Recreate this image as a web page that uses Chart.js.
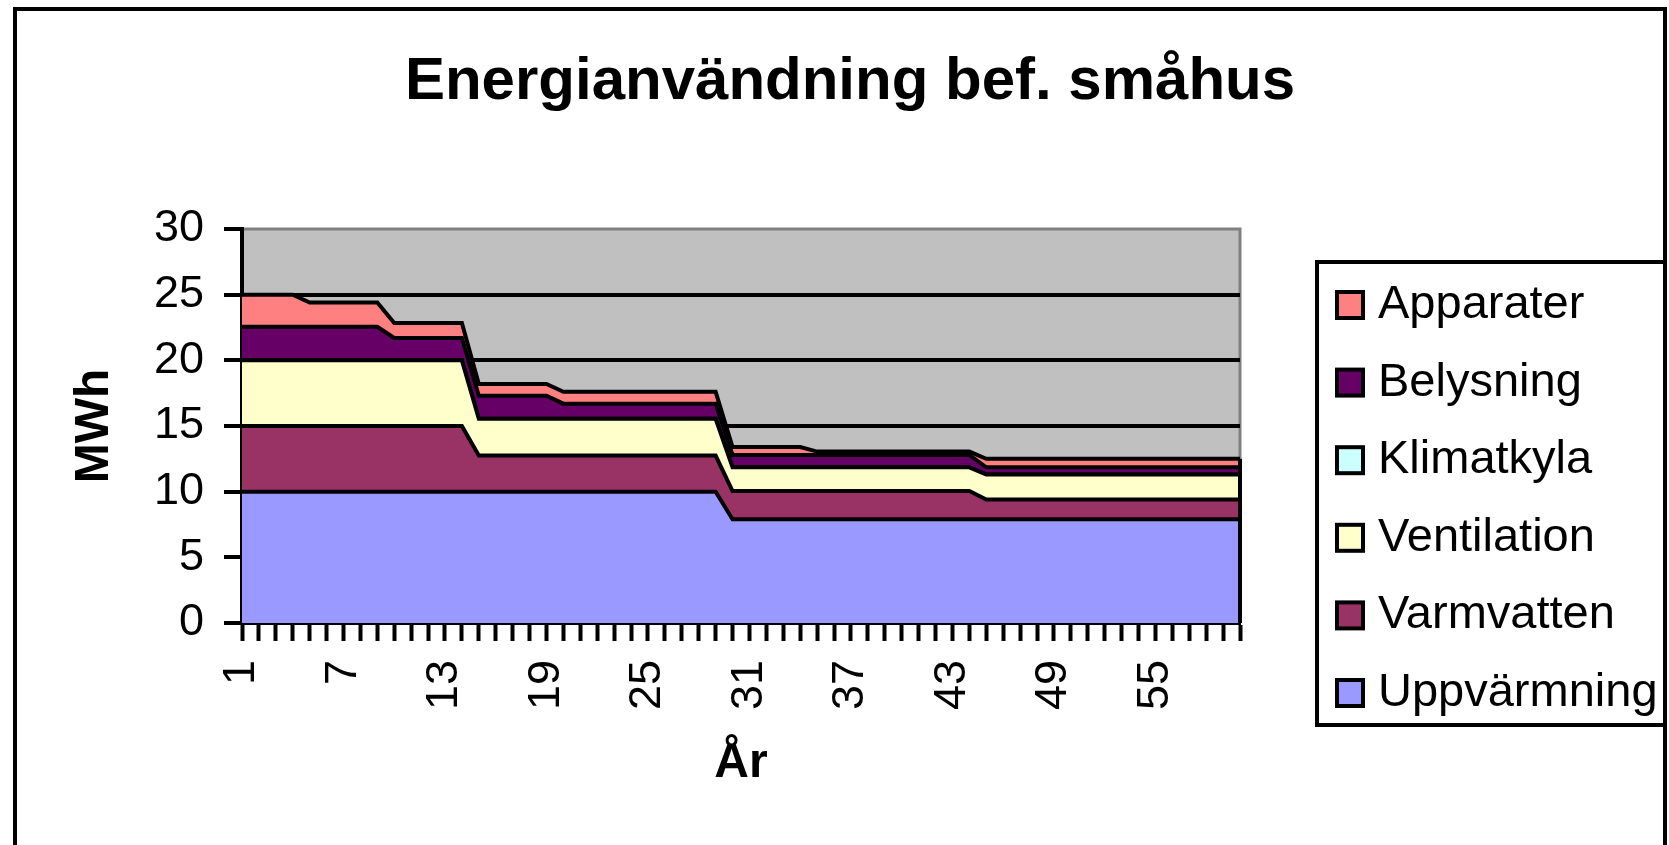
<!DOCTYPE html>
<html lang="sv">
<head>
<meta charset="utf-8">
<title>Energianvändning bef. småhus</title>
<script src="https://cdn.jsdelivr.net/npm/chart.js"></script>
<style>
    html, body { margin: 0; padding: 0; background: #fff; overflow: hidden; }
    #frame {
        position: absolute; left: 13px; top: 7px;
        width: 1646px; height: 900px;
        border: 4px solid #000;
    }
    #wrap { position: absolute; left: 0; top: 0; width: 1669px; height: 845px; }
</style>
</head>
<body>
<div id="frame"></div>
<div id="wrap"><canvas id="energyChart"></canvas></div>
<script>
// Categories (År)
const years = [
    '1', '2', '3', '4', '5', '6', '7', '8', '9', '10',
    '11', '12', '13', '14', '15', '16', '17', '18', '19', '20',
    '21', '22', '23', '24', '25', '26', '27', '28', '29', '30',
    '31', '32', '33', '34', '35', '36', '37', '38', '39', '40',
    '41', '42', '43', '44', '45', '46', '47', '48', '49', '50',
    '51', '52', '53', '54', '55', '56', '57', '58', '59', '60'
];

// MWh per year
const uppvarmning = [
    10, 10, 10, 10, 10, 10, 10, 10, 10, 10,
    10, 10, 10, 10, 10, 10, 10, 10, 10, 10,
    10, 10, 10, 10, 10, 10, 10, 10, 10, 7.9,
    7.9, 7.9, 7.9, 7.9, 7.9, 7.9, 7.9, 7.9, 7.9, 7.9,
    7.9, 7.9, 7.9, 7.9, 7.9, 7.9, 7.9, 7.9, 7.9, 7.9,
    7.9, 7.9, 7.9, 7.9, 7.9, 7.9, 7.9, 7.9, 7.9, 7.9
];
const varmvatten = [
    5, 5, 5, 5, 5, 5, 5, 5, 5, 5,
    5, 5, 5, 5, 2.75, 2.75, 2.75, 2.75, 2.75, 2.75,
    2.75, 2.75, 2.75, 2.75, 2.75, 2.75, 2.75, 2.75, 2.75, 2.15,
    2.15, 2.15, 2.15, 2.15, 2.15, 2.15, 2.15, 2.15, 2.15, 2.15,
    2.15, 2.15, 2.15, 2.15, 1.5, 1.5, 1.5, 1.5, 1.5, 1.5,
    1.5, 1.5, 1.5, 1.5, 1.5, 1.5, 1.5, 1.5, 1.5, 1.5
];
const ventilation = [
    5, 5, 5, 5, 5, 5, 5, 5, 5, 5,
    5, 5, 5, 5, 2.8, 2.8, 2.8, 2.8, 2.8, 2.8,
    2.8, 2.8, 2.8, 2.8, 2.8, 2.8, 2.8, 2.8, 2.8, 1.8,
    1.8, 1.8, 1.8, 1.8, 1.8, 1.8, 1.8, 1.8, 1.8, 1.8,
    1.8, 1.8, 1.8, 1.8, 1.9, 1.9, 1.9, 1.9, 1.9, 1.9,
    1.9, 1.9, 1.9, 1.9, 1.9, 1.9, 1.9, 1.9, 1.9, 1.9
];
const klimatkyla = [
    0, 0, 0, 0, 0, 0, 0, 0, 0, 0,
    0, 0, 0, 0, 0, 0, 0, 0, 0, 0,
    0, 0, 0, 0, 0, 0, 0, 0, 0, 0,
    0, 0, 0, 0, 0, 0, 0, 0, 0, 0,
    0, 0, 0, 0, 0, 0, 0, 0, 0, 0,
    0, 0, 0, 0, 0, 0, 0, 0, 0, 0
];
const belysning = [
    2.55, 2.55, 2.55, 2.55, 2.55, 2.55, 2.55, 2.55, 2.55, 1.7,
    1.7, 1.7, 1.7, 1.7, 1.75, 1.75, 1.75, 1.75, 1.75, 1.15,
    1.15, 1.15, 1.15, 1.15, 1.15, 1.15, 1.15, 1.15, 1.15, 0.95,
    0.95, 0.95, 0.95, 0.95, 0.95, 0.95, 0.95, 0.95, 0.95, 0.95,
    0.95, 0.95, 0.95, 0.95, 0.55, 0.55, 0.55, 0.55, 0.55, 0.55,
    0.55, 0.55, 0.55, 0.55, 0.55, 0.55, 0.55, 0.55, 0.55, 0.55
];
const apparater = [
    2.45, 2.45, 2.45, 2.45, 1.85, 1.85, 1.85, 1.85, 1.85, 1.15,
    1.15, 1.15, 1.15, 1.15, 0.9, 0.9, 0.9, 0.9, 0.9, 0.9,
    0.9, 0.9, 0.9, 0.9, 0.9, 0.9, 0.9, 0.9, 0.9, 0.6,
    0.6, 0.6, 0.6, 0.6, 0.25, 0.25, 0.25, 0.25, 0.25, 0.25,
    0.25, 0.25, 0.25, 0.25, 0.65, 0.65, 0.65, 0.65, 0.65, 0.65,
    0.65, 0.65, 0.65, 0.65, 0.65, 0.65, 0.65, 0.65, 0.65, 0.65
];

const yTicks = [0, 5, 10, 15, 20, 25, 30];

Chart.defaults.font.family = '"Liberation Sans", Arial, sans-serif';
Chart.defaults.color = '#000';

// grey plot area with Excel-like frame
const plotBackground = {
    id: 'plotBackground',
    beforeDraw(chart) {
        const {ctx, chartArea: a} = chart;
        ctx.save();
        ctx.fillStyle = '#C0C0C0';
        ctx.fillRect(a.left, a.top, a.right - a.left, a.bottom - a.top);
        ctx.strokeStyle = '#808080';
        ctx.lineWidth = 3;
        ctx.beginPath();
        ctx.moveTo(a.left, a.top);
        ctx.lineTo(a.right, a.top);
        ctx.lineTo(a.right, a.bottom);
        ctx.stroke();
        ctx.restore();
    },
    afterDatasetsDraw(chart) {
        // closing edge of the stacked areas at the last category
        const {ctx, chartArea: a, scales} = chart;
        const last = chart.data.datasets.reduce((s, ds) => s + ds.data[ds.data.length - 1], 0);
        ctx.save();
        ctx.strokeStyle = '#000';
        ctx.lineWidth = 4;
        ctx.beginPath();
        ctx.moveTo(a.right, scales.y.getPixelForValue(last));
        ctx.lineTo(a.right, a.bottom);
        ctx.stroke();
        ctx.restore();
    }
};

// boxed legend on the right, top to bottom in reverse stacking order
const boxLegend = {
    id: 'boxLegend',
    afterDraw(chart) {
        const ctx = chart.ctx;
        const left = chart.chartArea.right + 77;
        const top = 262, right = 1665, bottom = 725;
        ctx.save();
        ctx.fillStyle = '#fff';
        ctx.fillRect(left, top, right - left, bottom - top);
        ctx.strokeStyle = '#000';
        ctx.lineWidth = 4;
        ctx.strokeRect(left, top, right - left, bottom - top);
        ctx.font = '47px "Liberation Sans", Arial, sans-serif';
        ctx.textBaseline = 'middle';
        ctx.textAlign = 'left';
        chart.data.datasets.slice().reverse().forEach((ds, i) => {
            const cy = 305 + i * 77.6;
            ctx.fillStyle = ds.backgroundColor;
            ctx.fillRect(1337, cy - 13, 26, 26);
            ctx.lineWidth = 4;
            ctx.strokeRect(1337, cy - 13, 26, 26);
            ctx.fillStyle = '#000';
            ctx.fillText(ds.label, 1378, cy);
        });
        ctx.restore();
    }
};

const area = (label, data, color, fill) => ({
    label: label,
    data: data,
    backgroundColor: color,
    borderColor: '#000',
    borderWidth: 4,
    pointRadius: 0,
    pointHoverRadius: 0,
    tension: 0,
    fill: fill
});

new Chart(document.getElementById('energyChart'), {
    type: 'line',
    data: {
        labels: years,
        datasets: [
            area('Uppvärmning', uppvarmning, '#9999FF', 'origin'),
            area('Varmvatten', varmvatten, '#993366', '-1'),
            area('Ventilation', ventilation, '#FFFFCC', '-1'),
            area('Klimatkyla', klimatkyla, '#CCFFFF', '-1'),
            area('Belysning', belysning, '#660066', '-1'),
            area('Apparater', apparater, '#FF8080', '-1')
        ]
    },
    options: {
        responsive: true,
        maintainAspectRatio: false,
        animation: false,
        layout: {
            padding: {left: 31, right: 0, top: 0, bottom: 0}
        },
        plugins: {
            legend: {display: false},
            tooltip: {enabled: false},
            title: {
                display: true,
                text: 'Energianvändning bef. småhus',
                font: {size: 60, weight: 'bold'},
                padding: {top: 46, bottom: 111}
            }
        },
        scales: {
            x: {
                type: 'category',
                offset: false,
                afterFit: (scale) => { scale.height = 222; },
                grid: {
                    display: true,
                    drawOnChartArea: false,
                    drawTicks: true,
                    tickLength: 18,
                    tickWidth: 4,
                    tickColor: '#000',
                    offset: false
                },
                border: {display: true, color: '#000', width: 4},
                ticks: {
                    autoSkip: false,
                    minRotation: 90,
                    maxRotation: 90,
                    padding: 19,
                    font: {size: 45},
                    callback: function (value, index) {
                        return index % 6 === 0 ? this.getLabelForValue(value) : '';
                    }
                },
                title: {
                    display: true,
                    text: 'År',
                    font: {size: 48, weight: 'bold'},
                    padding: {top: 0, bottom: 52}
                }
            },
            y: {
                stacked: true,
                min: yTicks[0],
                max: yTicks[yTicks.length - 1],
                afterFit: (scale) => { scale.width = 211; },
                afterBuildTicks: (scale) => { scale.ticks = yTicks.map(v => ({value: v})); },
                grid: {
                    color: (c) => (c.tick && c.tick.value === 30 ? 'rgba(0,0,0,0)' : '#000'),
                    lineWidth: 4,
                    tickLength: 18,
                    tickWidth: 4,
                    tickColor: '#000'
                },
                border: {display: true, color: '#000', width: 4},
                ticks: {
                    padding: 20,
                    font: {size: 45}
                },
                title: {
                    display: true,
                    text: 'MWh',
                    font: {size: 48, weight: 'bold'},
                    padding: {top: 35, bottom: 0}
                }
            },
            legendSpace: {
                type: 'linear',
                position: 'right',
                display: true,
                afterFit: (scale) => { scale.width = 429; },
                grid: {display: false},
                border: {display: false},
                ticks: {display: false}
            }
        }
    },
    plugins: [plotBackground, boxLegend]
});
</script>
</body>
</html>
